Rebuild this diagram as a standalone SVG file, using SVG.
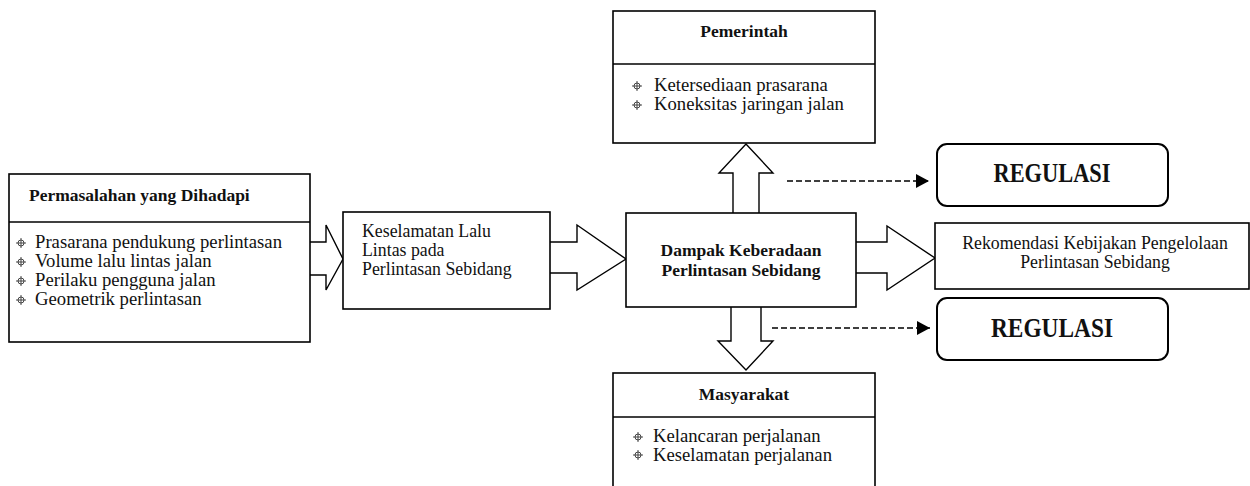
<svg xmlns="http://www.w3.org/2000/svg" xmlns:xlink="http://www.w3.org/1999/xlink" width="1250" height="486" viewBox="0 0 1250 486">
<style>
.box{fill:#fff;stroke:#000;stroke-width:1.6}
.arr{fill:#fff;stroke:#000;stroke-width:1.4;stroke-linejoin:miter}
.t{font-family:"Liberation Serif",serif;font-size:17.8px;fill:#111}
.l{font-size:18.7px}
.b{font-weight:bold;font-size:17.5px}
.c{text-anchor:middle}
.reg{font-family:"Liberation Serif",serif;font-size:28px;font-weight:bold;fill:#111;text-anchor:middle}
.dash{stroke:#000;stroke-width:1.3;stroke-dasharray:6,3;fill:none}
</style>
<defs>
<g id="bul" fill="none" stroke="#333" stroke-width="0.9">
<circle r="3"/>
<path d="M-5 0H5M0 -5V5"/>
</g>
<marker id="ah" markerWidth="14" markerHeight="14" refX="13" refY="7" orient="auto" markerUnits="userSpaceOnUse">
<path d="M0 0L13 7L0 14Z" fill="#000"/>
</marker>
</defs>

<g id="connectors">
<path class="arr" d="M310 242H326V225L343 259L326 290V275H310"/>
<path class="arr" d="M550 242H577V225L626 259L577 290V273H550"/>
<path class="arr" d="M856 242H887V226L935 258L887 290V273H856"/>
<path class="arr" d="M733 213V173H719L746 144L773 173H759V213"/>
<path class="arr" d="M731 307V341H718L746 370L773 341H761V307"/>
<line class="dash" x1="787" y1="181" x2="929" y2="181" marker-end="url(#ah)"/>
<line class="dash" x1="772" y1="328" x2="930" y2="328" marker-end="url(#ah)"/>
</g>

<g id="permasalahan">
<rect class="box" x="9" y="174" width="301" height="168"/>
<line class="box" x1="9" y1="222" x2="310" y2="222"/>
<text class="t b" x="29" y="201">Permasalahan yang Dihadapi</text>
<use xlink:href="#bul" x="21" y="243"/>
<use xlink:href="#bul" x="21" y="262"/>
<use xlink:href="#bul" x="21" y="281"/>
<use xlink:href="#bul" x="21" y="300"/>
<text class="t l" x="35" y="248">Prasarana pendukung perlintasan</text>
<text class="t l" x="35" y="267">Volume lalu lintas jalan</text>
<text class="t l" x="35" y="286">Perilaku pengguna jalan</text>
<text class="t l" x="35" y="305">Geometrik perlintasan</text>
</g>

<g id="keselamatan">
<rect class="box" x="343" y="212" width="207" height="97"/>
<text class="t" x="362" y="237">Keselamatan Lalu</text>
<text class="t" x="362" y="256">Lintas pada</text>
<text class="t" x="362" y="275">Perlintasan Sebidang</text>
</g>

<g id="dampak">
<rect class="box" x="626" y="213" width="230" height="94"/>
<text class="t b c" x="741" y="256">Dampak Keberadaan</text>
<text class="t b c" x="741" y="276">Perlintasan Sebidang</text>
</g>

<g id="pemerintah">
<rect class="box" x="613" y="11" width="262" height="132"/>
<line class="box" x1="613" y1="64" x2="875" y2="64"/>
<text class="t b c" x="744" y="37">Pemerintah</text>
<use xlink:href="#bul" x="637" y="86"/>
<use xlink:href="#bul" x="637" y="105"/>
<text class="t l" x="654" y="91">Ketersediaan prasarana</text>
<text class="t l" x="654" y="110">Koneksitas jaringan jalan</text>
</g>

<g id="masyarakat">
<rect class="box" x="613" y="373" width="262" height="120"/>
<line class="box" x1="613" y1="417" x2="875" y2="417"/>
<text class="t b c" x="744" y="400">Masyarakat</text>
<use xlink:href="#bul" x="638" y="437"/>
<use xlink:href="#bul" x="638" y="455"/>
<text class="t l" x="653" y="442">Kelancaran perjalanan</text>
<text class="t l" x="653" y="461">Keselamatan perjalanan</text>
</g>

<g id="rekomendasi">
<rect class="box" x="935" y="223" width="314" height="66"/>
<text class="t c" x="1095" y="249">Rekomendasi Kebijakan Pengelolaan</text>
<text class="t c" x="1095" y="268">Perlintasan Sebidang</text>
</g>

<g id="regulasi1">
<rect class="box" x="937" y="144" width="231" height="62" rx="10" ry="10" style="stroke-width:2"/>
<text class="reg" x="1052" y="182" textLength="117" lengthAdjust="spacingAndGlyphs">REGULASI</text>
</g>

<g id="regulasi2">
<rect class="box" x="937" y="298" width="231" height="62" rx="10" ry="10" style="stroke-width:2"/>
<text class="reg" x="1052" y="337" textLength="122" lengthAdjust="spacingAndGlyphs">REGULASI</text>
</g>
</svg>
